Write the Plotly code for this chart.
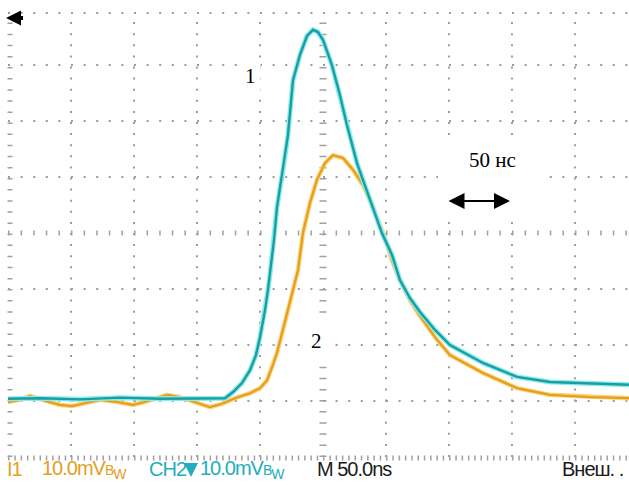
import plotly.graph_objects as go

# ---- data (time in ns, voltage in mV; 50 ns/div, 10 mV/div) ----
ch2_t = [0, 25.4, 57.1, 88.9, 120.6, 152.4, 172.2, 178.6, 185.7, 192.1, 196.8, 200.0, 204.0,
         206.3, 207.9, 211.1, 213.5, 218.3, 222.2, 226.2, 231.7, 237.3, 242.1, 246.0, 250.0,
         257.1, 263.5, 269.0, 277.0, 281.7, 289.7, 296.8, 304.8, 311.1, 319.0, 327.0, 338.9,
         350.8, 377.0, 404.0, 430.2, 461.9, 492.9]
ch2_v = [-29.6, -29.5, -29.7, -29.4, -29.6, -29.6, -29.5, -28.4, -26.8, -24.5, -21.8, -18.6, -13.8,
         -10.2, -7.5, -1.3, 4.6, 11.3, 17.5, 27.3, 31.8, 35.2, 36.3, 35.9, 34.5,
         30.0, 24.6, 19.3, 12.5, 9.5, 4.6, 0.0, -3.9, -8.4, -11.6, -14.1, -17.3,
         -20.0, -23.2, -25.7, -26.6, -26.8, -27.1]

ch1_t = [0, 9.5, 17.5, 29.4, 41.3, 50.8, 61.1, 73.0, 87.3, 99.2, 111.1, 126.2, 136.5, 148.4,
         160.3, 169.8, 180.2, 192.1, 200.0, 205.6, 209.5, 213.5, 218.3, 222.2, 226.2, 230.2,
         234.1, 239.7, 245.2, 251.6, 257.9, 265.9, 273.8, 281.7, 289.7, 297.6, 305.6, 311.1,
         319.0, 327.0, 338.9, 350.8, 377.0, 404.0, 430.2, 461.9, 492.9]
ch1_v = [-30.2, -29.8, -29.1, -30.0, -30.7, -30.9, -30.4, -29.8, -30.2, -30.7, -30.0, -28.9, -29.3, -30.2,
         -31.1, -30.5, -29.5, -28.6, -27.7, -26.3, -24.1, -21.4, -17.3, -13.8, -10.2, -6.6,
         0.0, 5.4, 9.5, 12.5, 13.9, 13.4, 11.3, 8.6, 4.6, 0.0, -5.4, -8.4,
         -12.0, -14.8, -18.6, -21.8, -25.0, -27.7, -28.9, -29.3, -29.5]

x_grid = [50, 100, 150, 200, 300, 350, 400, 450]      # ns (centre line 250 drawn separately)
y_grid = [-30, -20, -10, 10, 20, 30]                  # mV (centre line 0 drawn separately)
x_range = [0, 492.9]
y_range = [-40, 39.3]

W, H = 629, 486
ML, MR, MT, MB = 8, 0, 13, 29
PW, PH = W - ML - MR, H - MT - MB


def px(x):
    return (x - ML) / PW


def py(y):
    return (H - MB - y) / PH


ORANGE = "#e39f1e"
ORANGE_GLOW = "#ffd27a"
CYAN = "#1e9c9e"
CYAN_GLOW = "#86eef2"

fig = go.Figure()
fig.add_trace(go.Scatter(x=ch1_t, y=ch1_v, mode="lines", line=dict(color=ORANGE_GLOW, width=4.5), hoverinfo="skip"))
fig.add_trace(go.Scatter(x=ch1_t, y=ch1_v, mode="lines", line=dict(color=ORANGE, width=2.2)))
fig.add_trace(go.Scatter(x=ch2_t, y=ch2_v, mode="lines", line=dict(color=CYAN_GLOW, width=5)))
fig.add_trace(go.Scatter(x=ch2_t, y=ch2_v, mode="lines", line=dict(color=CYAN, width=2.4)))

GRID = "#9c9c9c"
TICK = "#a0a0a0"
fig.update_layout(
    width=W, height=H, margin=dict(l=ML, r=MR, t=MT, b=MB),
    paper_bgcolor="white", plot_bgcolor="white", showlegend=False,
    xaxis=dict(range=x_range, showgrid=False, zeroline=False, showticklabels=False, ticks="",
               showline=False, fixedrange=True),
    yaxis=dict(range=y_range, showgrid=False, zeroline=False, showticklabels=False, ticks="",
               showline=False, fixedrange=True),
)

shapes = []
# dotted division grid
for gx in x_grid:
    shapes.append(dict(type="line", xref="x", yref="paper", x0=gx, x1=gx, y0=0, y1=1,
                       line=dict(color=GRID, width=2, dash="2px,9.1px"), layer="below"))
for gy in y_grid:
    shapes.append(dict(type="line", xref="paper", yref="y", x0=0, x1=1, y0=gy, y1=gy,
                       line=dict(color=GRID, width=2, dash="2px,10.6px"), layer="below"))
# top border dotted row
shapes.append(dict(type="line", xref="paper", yref="paper", x0=0, x1=1, y0=1, y1=1,
                   line=dict(color=GRID, width=2, dash="2px,10.6px"), layer="below"))
# central horizontal axis with tick bars
shapes.append(dict(type="line", xref="paper", yref="y", x0=0, x1=1, y0=0, y1=0,
                   line=dict(color=TICK, width=5, dash="1.5px,11.1px"), layer="below"))
# central vertical axis with tick bars
shapes.append(dict(type="line", xref="x", yref="paper", x0=250, x1=250, y0=0, y1=1,
                   line=dict(color=TICK, width=7, dash="1.5px,9.6px"), layer="below"))
# left edge ticks
shapes.append(dict(type="line", xref="paper", yref="paper", x0=px(10), x1=px(10), y0=0, y1=1,
                   line=dict(color=TICK, width=5, dash="1.5px,9.6px"), layer="below"))
# bottom edge ticks
shapes.append(dict(type="line", xref="paper", yref="paper", x0=0, x1=1, y0=py(458), y1=py(458),
                   line=dict(color=TICK, width=5, dash="1.5px,4.8px"), layer="below"))
# white box behind the time-scale label
shapes.append(dict(type="rect", xref="paper", yref="paper", x0=px(438), x1=px(545), y0=py(214), y1=py(142),
                   fillcolor="white", line=dict(width=0), layer="below"))
# shaft of the top-left marker arrow
shapes.append(dict(type="line", xref="paper", yref="paper", x0=px(12), x1=px(23), y0=py(18), y1=py(18),
                   line=dict(color="black", width=4), layer="above"))
fig.update_layout(shapes=shapes)

SERIF = "Liberation Serif, Times New Roman, serif"
ann = []
ann.append(dict(xref="paper", yref="paper", x=px(250), y=py(76), text="1", showarrow=False,
                xanchor="center", yanchor="middle",
                font=dict(family=SERIF, size=21, color="black"), bgcolor="white", borderpad=4))
ann.append(dict(xref="paper", yref="paper", x=px(316), y=py(341), text="2", showarrow=False,
                xanchor="center", yanchor="middle",
                font=dict(family=SERIF, size=21, color="black"), bgcolor="white", borderpad=8))
ann.append(dict(xref="paper", yref="paper", x=px(492), y=py(160), text="50 нс", showarrow=False,
                xanchor="center", yanchor="middle",
                font=dict(family=SERIF, size=21, color="black")))
# double arrow = one division (50 ns)
ann.append(dict(xref="paper", yref="paper", x=px(510), y=py(201), ax=-63, ay=0, text="",
                showarrow=True, arrowside="end+start", arrowhead=2, arrowsize=1.6, arrowwidth=2,
                arrowcolor="black"))
# ground/trigger marker arrow head at top-left
ann.append(dict(xref="paper", yref="paper", x=px(6), y=py(18), ax=12, ay=0, text="",
                showarrow=True, arrowhead=2, arrowsize=0.75, arrowwidth=4, arrowcolor="black"))

STATUS = "Liberation Sans, Arial, sans-serif"
SY = py(469)
CH2C = "#22adc0"
BW = "10.0mV<span style='font-size:14px'>B</span><sub>W</sub>"
status = [
    (5, "I1", ORANGE),
    (40, BW, ORANGE),
    (147, "CH2", CH2C),
    (198, BW, CH2C),
    (315, "M 50.0ns", "#1a1a1a"),
    (560, "Внеш. .", "#1a1a1a"),
]
for x0, txt, col in status:
    ann.append(dict(xref="paper", yref="paper", x=px(x0), y=SY,
                    text="<span style='letter-spacing:-1px'>" + txt + "</span>", showarrow=False,
                    xanchor="left", yanchor="middle",
                    font=dict(family=STATUS, size=20, color=col)))
# CH2 position marker (down arrow)
ann.append(dict(xref="paper", yref="paper", x=px(191), y=py(477), ax=0, ay=-15, text="",
                showarrow=True, arrowhead=2, arrowsize=0.8, arrowwidth=3.5, arrowcolor=CH2C))
fig.update_layout(annotations=ann)

fig.write_html("out.html")
